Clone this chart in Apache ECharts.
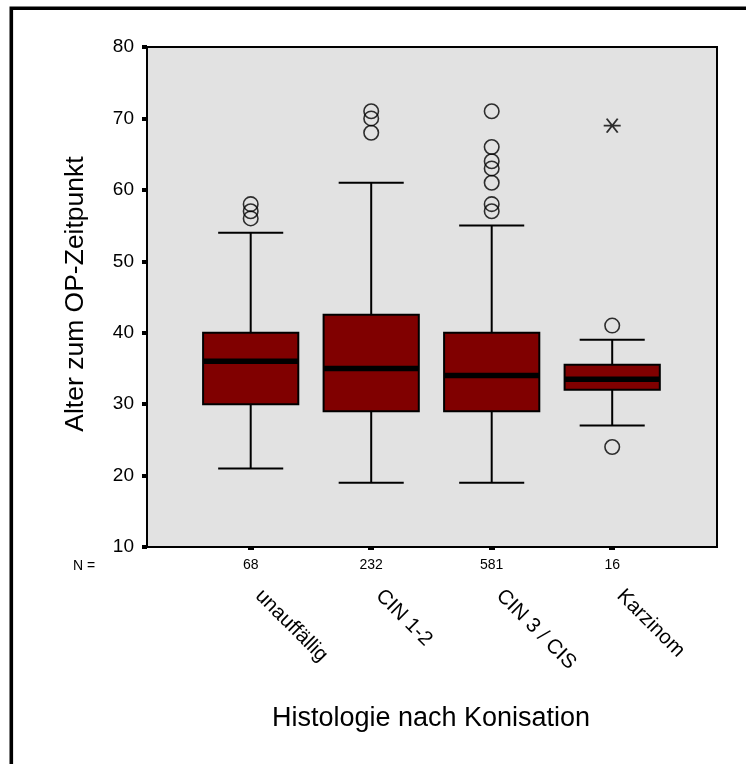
<!DOCTYPE html>
<html>
<head>
<meta charset="utf-8">
<script src="https://cdn.jsdelivr.net/npm/echarts@6/dist/echarts.min.js"></script>
<style>
  html, body { margin: 0; padding: 0; background: #fff; }
  #chart { width: 746px; height: 764px; }
</style>
</head>
<body>
<div id="chart"></div>
<script>
// Age at surgery by histology after conization
const categories = ['unauffällig', 'CIN 1-2', 'CIN 3 / CIS', 'Karzinom'];
const nValues = [68, 232, 581, 16];
const whiskerLow = [21, 19, 19, 27];
const q1 = [30, 29, 29, 32];
const median = [36, 35, 34, 33.5];
const q3 = [40, 42.5, 40, 35.5];
const whiskerHigh = [54, 61, 55, 39];
const outliers = [
  [56, 57, 58],
  [68, 70, 71],
  [57, 58, 61, 63, 64, 66, 71],
  [24, 41]
];
const extremes = [[], [], [], [69]];
const yTicks = { min: 10, max: 80, interval: 10 };

const FONT = "'Liberation Sans', Arial, Helvetica, sans-serif";

const boxData = categories.map((c, i) => [i, whiskerLow[i], q1[i], median[i], q3[i], whiskerHigh[i]]);
const outlierData = [];
outliers.forEach((vals, i) => vals.forEach(v => outlierData.push([categories[i], v])));
const extremeData = [];
extremes.forEach((vals, i) => vals.forEach(v => extremeData.push([categories[i], v])));

const chart = echarts.init(document.getElementById('chart'), null, { renderer: 'canvas' });

const plotLeft = 147, plotTop = 47, plotWidth = 570, plotHeight = 500;
const band = 120.5;
const catLeft = 250.7 - band / 2;

chart.setOption({
  backgroundColor: '#ffffff',
  animation: false,
  grid: [
    {
      left: plotLeft, top: plotTop, width: plotWidth, height: plotHeight,
      show: true, backgroundColor: '#e2e2e2', borderColor: '#000', borderWidth: 2
    },
    {
      left: catLeft, top: plotTop, width: band * 4, height: plotHeight
    }
  ],
  xAxis: [
    { gridIndex: 0, type: 'value', min: 0, max: 1, show: false },
    {
      gridIndex: 1, type: 'category', data: categories, position: 'bottom',
      axisLine: { show: false },
      axisTick: { show: true, alignWithLabel: true, length: 3, lineStyle: { color: '#000', width: 6 } },
      axisLabel: {
        margin: 11, fontFamily: FONT, fontSize: 14, color: '#000',
        formatter: (v, idx) => String(nValues[idx])
      }
    },
    {
      gridIndex: 1, type: 'category', data: categories, position: 'bottom',
      axisLine: { show: false }, axisTick: { show: false },
      axisLabel: {
        margin: 38, rotate: -45, align: 'left', verticalAlign: 'middle',
        padding: [0, 0, 0, 11],
        fontFamily: FONT, fontSize: 20.5, color: '#000'
      }
    }
  ],
  yAxis: [
    {
      gridIndex: 0, type: 'value', min: yTicks.min, max: yTicks.max, interval: yTicks.interval,
      axisLine: { show: false },
      axisTick: { show: true, length: 5, lineStyle: { color: '#000', width: 4 } },
      axisLabel: { margin: 13, fontFamily: FONT, fontSize: 19, color: '#000' },
      splitLine: { show: false }
    },
    { gridIndex: 1, type: 'value', min: yTicks.min, max: yTicks.max, show: false }
  ],
  graphic: [
    {
      type: 'rect', silent: true, z: 100,
      shape: { x: 11.3, y: 8.3, width: 1000, height: 1000 },
      style: { fill: 'none', stroke: '#000', lineWidth: 3.6 }
    },
    {
      type: 'text', x: 73, y: 566,
      style: { text: 'N =', font: '14px ' + FONT, fill: '#000', align: 'left', verticalAlign: 'middle' }
    },
    {
      type: 'text', x: 431, y: 719,
      style: { text: 'Histologie nach Konisation', font: '27px ' + FONT, fill: '#000', align: 'center', verticalAlign: 'middle' }
    },
    {
      type: 'text', x: 75.5, y: 294, rotation: Math.PI / 2,
      style: { text: 'Alter zum OP-Zeitpunkt', font: '26.5px ' + FONT, fill: '#000', align: 'center', verticalAlign: 'middle' }
    }
  ],
  series: [
    {
      type: 'custom',
      xAxisIndex: 1, yAxisIndex: 1,
      encode: { x: 0, y: [1, 2, 3, 4, 5] },
      data: boxData,
      z: 2,
      renderItem: function (params, api) {
        const i = api.value(0);
        const w = api.size([1, 0])[0];
        const half = w * 0.395, capHalf = w * 0.27;
        const x = api.coord([i, api.value(3)])[0];
        const yLo = api.coord([i, api.value(1)])[1];
        const yQ1 = api.coord([i, api.value(2)])[1];
        const yMd = api.coord([i, api.value(3)])[1];
        const yQ3 = api.coord([i, api.value(4)])[1];
        const yHi = api.coord([i, api.value(5)])[1];
        const thin = { stroke: '#000', lineWidth: 2 };
        return {
          type: 'group',
          children: [
            { type: 'line', shape: { x1: x, y1: yHi, x2: x, y2: yLo }, style: thin },
            { type: 'line', shape: { x1: x - capHalf, y1: yHi, x2: x + capHalf, y2: yHi }, style: thin },
            { type: 'line', shape: { x1: x - capHalf, y1: yLo, x2: x + capHalf, y2: yLo }, style: thin },
            { type: 'rect', shape: { x: x - half, y: yQ3, width: half * 2, height: yQ1 - yQ3 },
              style: { fill: '#800000', stroke: '#000', lineWidth: 2 } },
            { type: 'line', shape: { x1: x - half, y1: yMd, x2: x + half, y2: yMd },
              style: { stroke: '#000', lineWidth: 5.5 } }
          ]
        };
      }
    },
    {
      type: 'scatter',
      xAxisIndex: 1, yAxisIndex: 1,
      data: outlierData,
      symbol: 'circle', symbolSize: 14.5, z: 3,
      itemStyle: { color: 'rgba(0,0,0,0)', borderColor: '#000', borderWidth: 1.6 }
    },
    {
      type: 'scatter',
      xAxisIndex: 1, yAxisIndex: 1,
      data: extremeData,
      symbol: 'path://M0,7 L17,7 M3,0 L14,14 M14,0 L3,14',
      symbolSize: [17, 14], z: 3,
      itemStyle: { color: 'rgba(0,0,0,0)', borderColor: '#000', borderWidth: 1.8 }
    }
  ]
});
</script>
</body>
</html>
